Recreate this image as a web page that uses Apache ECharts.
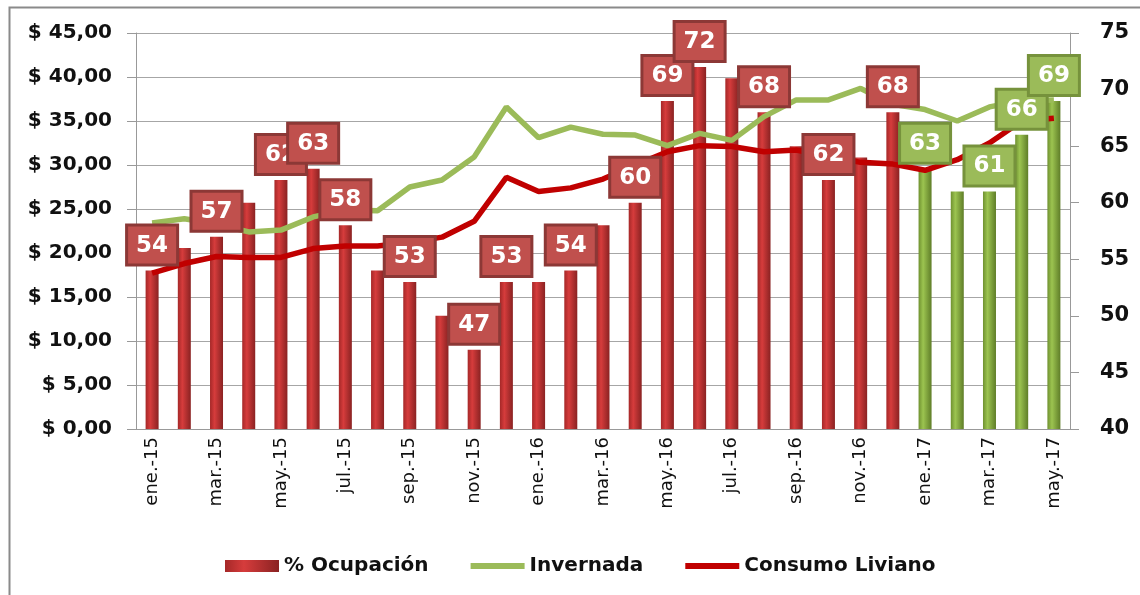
<!DOCTYPE html>
<html>
<head>
<meta charset="utf-8">
<script src="https://cdn.jsdelivr.net/npm/echarts@6/dist/echarts.min.js"></script>
<style>
 html, body { margin: 0; padding: 0; background: #fff; }
 #chart { width: 1140px; height: 595px; }
</style>
</head>
<body>
<div id="chart"></div>
<script>
// months ene.-15 .. may.-17
var months = ['ene.-15','feb.-15','mar.-15','abr.-15','may.-15','jun.-15','jul.-15','ago.-15','sep.-15','oct.-15','nov.-15','dic.-15',
 'ene.-16','feb.-16','mar.-16','abr.-16','may.-16','jun.-16','jul.-16','ago.-16','sep.-16','oct.-16','nov.-16','dic.-16',
 'ene.-17','feb.-17','mar.-17','abr.-17','may.-17'];
// % Ocupación (right axis)
var ocupacion = [54,56,57,60,62,63,58,54,53,50,47,53,53,54,58,60,69,72,71,68,65,62,64,68,63,61,61,66,69];
// Invernada ($, left axis)
var invernada = [23.4,23.9,23.3,22.4,22.6,24.1,24.9,24.8,27.5,28.3,30.9,36.6,33.1,34.3,33.5,33.4,32.2,33.6,32.8,35.5,37.4,37.4,38.7,36.9,36.3,35.0,36.6,37.3,37.4];
// Consumo Liviano ($, left axis)
var consumo = [17.7,18.8,19.6,19.5,19.5,20.5,20.8,20.8,21.2,21.8,23.6,28.6,27.0,27.4,28.4,30.0,31.5,32.2,32.1,31.5,31.7,31.0,30.3,30.1,29.4,30.6,32.5,35.0,35.3];
// bars that carry a value label
var labeled = [0,2,4,5,6,8,10,11,13,15,16,17,19,21,23,24,26,27,28];
var firstGreen = 24;

var chart = echarts.init(document.getElementById('chart'));

function grad(c1, c2, c3) {
  return new echarts.graphic.LinearGradient(0, 0, 1, 0, [
    {offset: 0, color: c1}, {offset: 0.35, color: c2}, {offset: 1, color: c3}
  ]);
}
var redBar = grad('#a52828', '#d63c3c', '#8a2222');
var greenBar = grad('#6f9130', '#9cc450', '#5f7d28');

var barData = ocupacion.map(function (v, i) {
  return {value: v, itemStyle: {color: i >= firstGreen ? greenBar : redBar}};
});

// label boxes sit in an invisible bar series drawn above the lines
var labelData = ocupacion.map(function (v, i) {
  var green = i >= firstGreen;
  return {
    value: v,
    label: {
      show: labeled.indexOf(i) >= 0,
      backgroundColor: green ? '#9bbb59' : '#c0504d',
      borderColor: green ? '#76923c' : '#8c3836'
    }
  };
});

var font = 'DejaVu Sans';
var lineIcon = 'path://M0,0 L54,0 L54,6 L0,6 Z';

option = {
  animation: false,
  graphic: [{
    type: 'rect', left: 7, top: 5, silent: true,
    shape: {width: 1160, height: 620},
    style: {fill: 'none', stroke: '#8a8a8a', lineWidth: 2}
  }],
  grid: {left: 136, right: 70, top: 33, bottom: 166},
  legend: {
    left: 220, top: 551,
    itemGap: 42, itemWidth: 54, itemHeight: 12,
    textStyle: {fontFamily: font, fontWeight: 'bold', fontSize: 20, color: '#111'},
    data: [
      {name: '% Ocupación', icon: 'rect'},
      {name: 'Invernada', icon: lineIcon},
      {name: 'Consumo Liviano', icon: lineIcon}
    ]
  },
  xAxis: {
    type: 'category',
    data: months,
    boundaryGap: true,
    axisLine: {lineStyle: {color: '#999', width: 1}},
    axisTick: {interval: 1, length: 8, lineStyle: {color: '#999'}},
    axisLabel: {interval: 1, rotate: 90, fontFamily: font, fontSize: 18, color: '#111', margin: 8}
  },
  yAxis: [{
    type: 'value', min: 0, max: 45, interval: 5,
    axisLine: {show: true, lineStyle: {color: '#999'}},
    axisTick: {show: true, length: 9, lineStyle: {color: '#999'}},
    splitLine: {lineStyle: {color: '#a6a6a6', width: 1}},
    axisLabel: {
      fontFamily: font, fontWeight: 'bold', fontSize: 20, color: '#111', margin: 24,
      formatter: function (v) { return '$ ' + v.toFixed(2).replace('.', ','); }
    }
  }, {
    type: 'value', min: 40, max: 75, interval: 5,
    axisLine: {show: true, lineStyle: {color: '#999'}},
    axisTick: {show: true, length: 9, lineStyle: {color: '#999'}},
    splitLine: {show: false},
    axisLabel: {fontFamily: font, fontWeight: 'bold', fontSize: 21, color: '#111', margin: 30}
  }],
  series: [{
    name: '% Ocupación',
    type: 'bar',
    yAxisIndex: 1,
    barWidth: 13,
    barGap: '-100%',
    z: 1,
    itemStyle: {color: redBar},
    data: barData
  }, {
    name: 'Invernada',
    type: 'line',
    yAxisIndex: 0,
    symbol: 'none',
    z: 2,
    lineStyle: {color: '#9bbb59', width: 5.5},
    itemStyle: {color: '#9bbb59'},
    data: invernada
  }, {
    name: 'Consumo Liviano',
    type: 'line',
    yAxisIndex: 0,
    symbol: 'none',
    z: 2,
    lineStyle: {color: '#c00000', width: 5.5},
    itemStyle: {color: '#c00000'},
    data: consumo
  }, {
    name: 'etiquetas',
    type: 'bar',
    yAxisIndex: 1,
    barWidth: 13,
    barGap: '-100%',
    z: 5,
    silent: true,
    itemStyle: {color: 'rgba(0,0,0,0)'},
    label: {
      position: 'top', distance: 7,
      color: '#fff', fontFamily: font, fontWeight: 'bold', fontSize: 23,
      borderWidth: 3, padding: [4, 8, 3, 8], lineHeight: 30,
      backgroundColor: '#c0504d', borderColor: '#8c3836'
    },
    data: labelData
  }]
};

chart.setOption(option);
</script>
</body>
</html>
